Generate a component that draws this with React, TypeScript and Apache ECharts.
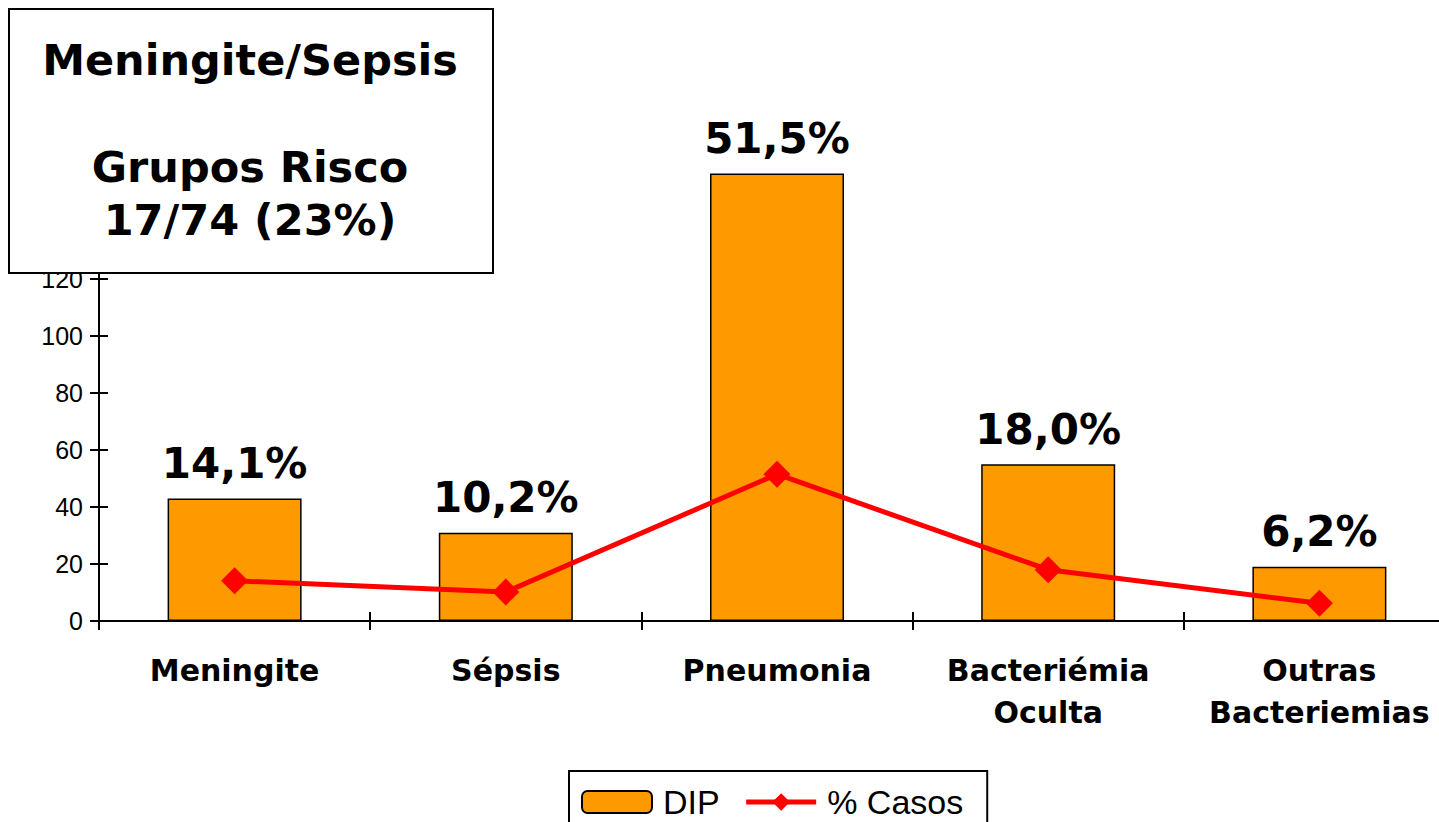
import React, { useEffect, useRef } from "react";
import * as echarts from "echarts";

const categories = ["Meningite", "Sépsis", "Pneumonia", "Bacteriémia\nOculta", "Outras\nBacteriemias"];
const dipValues = [43, 31, 157, 55, 19];
const pctValues = [14.1, 10.2, 51.5, 18.0, 6.2];
const yTicks = { min: 0, max: 160, interval: 20 };
const titleLines = ["Meningite/Sepsis", "Grupos Risco", "17/74 (23%)"];
const legendNames = ["DIP", "% Casos"];

export default function App() {
  const ref = useRef<HTMLDivElement>(null);
  useEffect(() => {
    const chart = echarts.init(ref.current!, null, { renderer: "svg" });
    const bold = "DejaVu Sans";
    chart.setOption({
      animation: false,
      backgroundColor: "#ffffff",
      grid: { left: 99, top: 165, width: 1356, height: 456 },
      legend: {
        data: [
          { name: legendNames[0] },
          { name: legendNames[1], lineStyle: { width: 5, color: "#FF0000" } },
        ],
        left: 569,
        top: 771,
        padding: [14, 24, 24, 12],
        borderColor: "#000",
        borderWidth: 2,
        itemGap: 24,
        itemWidth: 70,
        itemHeight: 22,
        textStyle: { fontFamily: "Liberation Sans", fontSize: 34, color: "#000", padding: [0, 0, 0, 6] },
      },
      xAxis: [
        {
          type: "category",
          data: categories,
          axisLine: { lineStyle: { color: "#000", width: 2 } },
          axisTick: { show: true, length: 9, lineStyle: { color: "#000", width: 2 } },
          axisLabel: {
            color: "#000",
            fontFamily: bold,
            fontWeight: "bold",
            fontSize: 30,
            lineHeight: 42,
            margin: 28,
            interval: 0,
          },
        },
        {
          type: "category",
          data: categories,
          position: "bottom",
          axisLine: { show: false },
          axisTick: { show: true, inside: true, length: 9, lineStyle: { color: "#000", width: 2 } },
          axisLabel: { show: false },
        },
      ],
      yAxis: [
        {
          type: "value",
          min: yTicks.min,
          max: yTicks.max,
          interval: yTicks.interval,
          axisLine: { show: true, lineStyle: { color: "#000", width: 2 } },
          axisTick: { show: true, length: 9, lineStyle: { color: "#000", width: 2 } },
          splitLine: { show: false },
          axisLabel: { color: "#000", fontFamily: "Liberation Sans", fontSize: 25, margin: 16 },
        },
        {
          type: "value",
          min: yTicks.min,
          max: yTicks.max,
          interval: yTicks.interval,
          position: "left",
          axisLine: { show: false },
          axisTick: { show: true, inside: true, length: 9, lineStyle: { color: "#000", width: 2 } },
          splitLine: { show: false },
          axisLabel: { show: false },
        },
      ],
      series: [
        {
          name: legendNames[0],
          type: "bar",
          data: dipValues,
          barWidth: 134,
          itemStyle: { color: "#FF9900", borderColor: "#000", borderWidth: 1.5 },
          label: {
            show: true,
            position: "top",
            distance: 14,
            color: "#000",
            fontFamily: bold,
            fontWeight: "bold",
            fontSize: 42,
            formatter: (p: any) => pctValues[p.dataIndex].toFixed(1).replace(".", ",") + "%",
          },
        },
        {
          name: legendNames[1],
          type: "line",
          data: pctValues,
          symbol: "diamond",
          symbolSize: 27,
          lineStyle: { color: "#FF0000", width: 5 },
          itemStyle: { color: "#FF0000" },
          z: 5,
        },
      ],
      graphic: [
        {
          type: "rect",
          z: 100,
          shape: { x: 9, y: 9, width: 484, height: 264 },
          style: { fill: "#fff", stroke: "#000", lineWidth: 2 },
        },
        ...titleLines.map((t, i) => ({
          type: "text",
          z: 101,
          x: 250,
          y: [60, 167, 220][i],
          style: {
            text: t,
            fill: "#000",
            font: "bold 43px 'DejaVu Sans'",
            textAlign: "center",
            textVerticalAlign: "middle",
          },
        })),
      ],
    });
    return () => chart.dispose();
  }, []);
  return (
    <div style={{ position: "absolute", left: 0, top: 0, width: 1439, height: 822, overflow: "hidden" }}>
      <div ref={ref} style={{ width: 1460, height: 822 }} />
    </div>
  );
}
